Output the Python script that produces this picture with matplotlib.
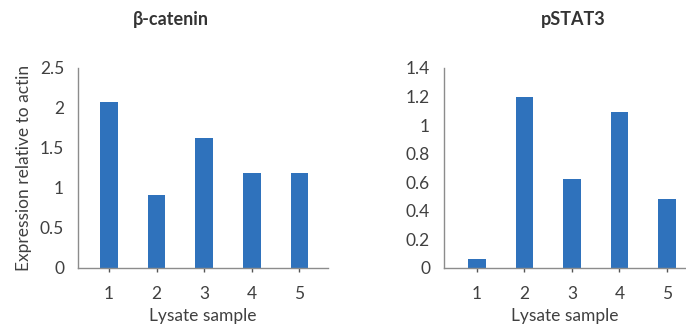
import matplotlib
matplotlib.use("Agg")
import matplotlib.pyplot as plt

samples = ["1", "2", "3", "4", "5"]
bcat_values = [2.07, 0.91, 1.63, 1.19, 1.19]
pstat_values = [0.063, 1.2, 0.62, 1.09, 0.48]
bcat_yticks = [0, 0.5, 1, 1.5, 2, 2.5]
bcat_yticklabels = ["0", "0.5", "1", "1.5", "2", "2.5"]
pstat_yticks = [0, 0.2, 0.4, 0.6, 0.8, 1.0, 1.2, 1.4]
pstat_yticklabels = ["0", "0.2", "0.4", "0.6", "0.8", "1", "1.2", "1.4"]

plt.rcParams['font.family'] = ['Lato', 'DejaVu Sans']
W, H = 686, 327
fig = plt.figure(figsize=(W / 100, H / 100), dpi=100)

bar_color = "#2F72BC"
text_color = "#404040"
spine_color = "#8C8C8C"

def px_axes(x0, x1, y_top, y_base):
    return fig.add_axes([x0 / W, 1 - y_base / H, (x1 - x0) / W, (y_base - y_top) / H])

def style(ax, values, yticks, ylabels, ymax, xl, xr):
    x = list(range(1, len(samples) + 1))
    ax.bar(x, values, width=0.37, color=bar_color, zorder=2)
    ax.set_xlim(xl, xr)
    ax.set_ylim(0, ymax)
    ax.set_xticks(x)
    ax.set_xticklabels(samples)
    ax.set_yticks(yticks)
    ax.set_yticklabels(ylabels)
    for s in ["top", "right"]:
        ax.spines[s].set_visible(False)
    for s in ["left", "bottom"]:
        ax.spines[s].set_color(spine_color)
        ax.spines[s].set_linewidth(1.0)
    ax.tick_params(axis="y", length=0, pad=10, labelsize=12.5, labelcolor=text_color)
    ax.tick_params(axis="x", length=3, width=1, color="#555555", pad=10,
                   labelsize=12.5, labelcolor=text_color)
    ax.set_xlabel("Lysate sample", fontsize=12.5, color=text_color, labelpad=4)

ax1 = px_axes(78, 328, 68, 268)
style(ax1, bcat_values, bcat_yticks, bcat_yticklabels, 2.5, 0.35, 5.6)
ax1.set_ylabel("Expression relative to actin", fontsize=12.5, color=text_color, labelpad=6)

ax2 = px_axes(444, 686, 68, 268)
style(ax2, pstat_values, pstat_yticks, pstat_yticklabels, 1.4, 0.31, 5.4)

fig.text(171 / W, 1 - 20 / H, "β-catenin", ha="center", va="center",
         fontsize=13, fontweight="bold", color="#333333")
fig.text(573 / W, 1 - 20 / H, "pSTAT3", ha="center", va="center",
         fontsize=13, fontweight="bold", color="#333333")

fig.savefig("out.png", dpi=100)
